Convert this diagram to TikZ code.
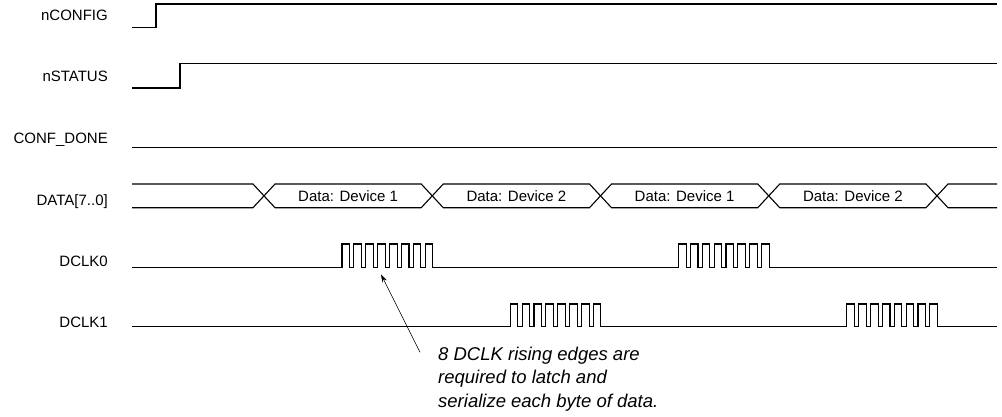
\documentclass[tikz,border=0pt]{standalone}
\usepackage{fontspec}
\setmainfont{Liberation Sans}
\usetikzlibrary{arrows.meta}
\tikzset{
  sig/.style={line width=1.1pt, line join=miter},
  lbl/.style={anchor=base east, inner sep=0pt, font=\fontsize{15}{18}\selectfont},
  dlbl/.style={anchor=base, inner sep=0pt, font=\fontsize{15}{18}\selectfont},
  notetext/.style={anchor=base west, inner sep=0pt, font=\fontsize{18.5}{23.5}\selectfont\itshape},
  pointer/.style={line width=0.6pt, -{Stealth[length=8pt,width=5pt]}}
}
\begin{document}
\begin{tikzpicture}[x=1pt,y=-1pt]
\path[use as bounding box] (0,0) rectangle (1002,416);

% labels
\node[lbl] (lnconfig) at (108,20) {nCONFIG};
\node[lbl] (lnstatus) at (108,81.7) {nSTATUS};
\node[lbl] (lconf) at (108,143.3) {CONF\_DONE};
\node[lbl] (ldata) at (108,205) {DATA[7..0]};
\node[lbl] (ldclk0) at (108,266) {DCLK0};
\node[lbl] (ldclk1) at (108,327) {DCLK1};

% nCONFIG
\draw[sig] (132,27.7) -- (156,27.7) -- (156,4) -- (997,4);
% nSTATUS
\draw[sig] (132,88) -- (180,88) -- (180,63.7) -- (997,63.7);
% CONF_DONE
\draw[sig] (132,147.2) -- (997,147.2);

% DATA bus
\def\yt{184}\def\yb{207.7}\def\ym{195.85}\def\hw{11}
\draw[sig] (132,\yt) -- (264-\hw,\yt) -- (264,\ym) -- (264-\hw,\yb) -- (132,\yb);
\foreach \a/\b in {264/432.25, 432.25/600.5, 600.5/768.75, 768.75/937}{
  \draw[sig] (\a,\ym) -- (\a+\hw,\yt) -- (\b-\hw,\yt) -- (\b,\ym) -- (\b-\hw,\yb) -- (\a+\hw,\yb) -- cycle;
}
\draw[sig] (997,\yt) -- (937+\hw,\yt) -- (937,\ym) -- (937+\hw,\yb) -- (997,\yb);

\node[dlbl] (d1) at (348.1,201.5) {Data: Device 1};
\node[dlbl] (d2) at (516.4,201.5) {Data: Device 2};
\node[dlbl] (d3) at (684.6,201.5) {Data: Device 1};
\node[dlbl] (d4) at (852.9,201.5) {Data: Device 2};

% DCLK0
\draw[sig] (132,267.7) -- (342,267.7)
  \foreach \i in {1,...,8}{ -- ++(0,-23.7) -- ++(7.6,0) -- ++(0,23.7) -- ++(4.27,0) }
  -- (678.5,267.7)
  \foreach \i in {1,...,8}{ -- ++(0,-23.7) -- ++(7.6,0) -- ++(0,23.7) -- ++(4.27,0) }
  -- (997,267.7);

% DCLK1
\draw[sig] (132,326.7) -- (510.25,326.7)
  \foreach \i in {1,...,8}{ -- ++(0,-22.7) -- ++(7.6,0) -- ++(0,22.7) -- ++(4.27,0) }
  -- (846.75,326.7)
  \foreach \i in {1,...,8}{ -- ++(0,-22.7) -- ++(7.6,0) -- ++(0,22.7) -- ++(4.27,0) }
  -- (997,326.7);

% annotation
\node[notetext] (note1) at (438,360) {8 DCLK rising edges are};
\node[notetext] (note2) at (438,383.5) {required to latch and};
\node[notetext] (note3) at (438,407) {serialize each byte of data.};
\coordinate (tail) at (420,352.3);
\coordinate (tip) at (381,274.3);
\draw[pointer] (tail) -- (tip);
\end{tikzpicture}
\end{document}
